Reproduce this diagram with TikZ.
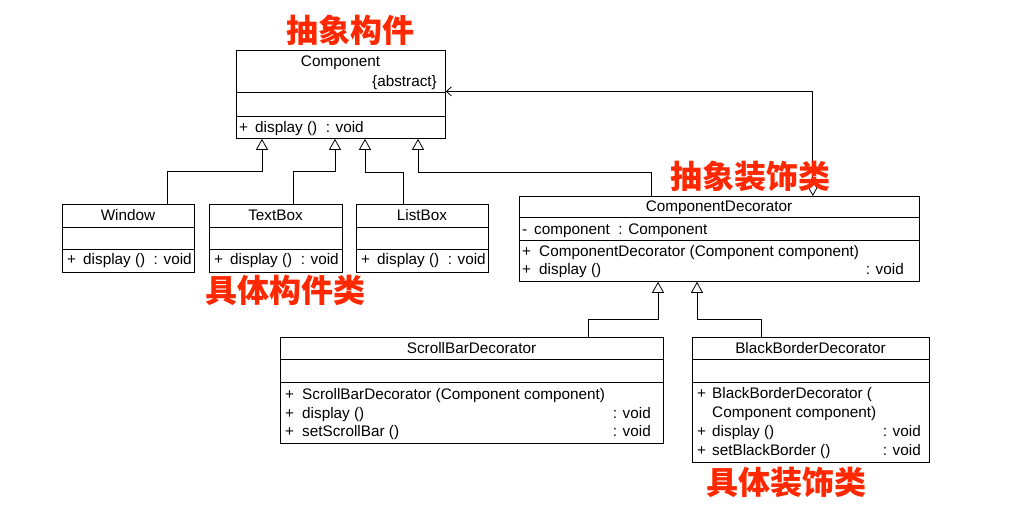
\documentclass[tikz,border=0pt]{standalone}
\usepackage{fontspec}
\setmainfont{Liberation Sans}
\newfontfamily\cjk{Noto Sans CJK SC}
\usetikzlibrary{arrows.meta}
\definecolor{rosso}{RGB}{255,40,0}
\tikzset{
  classe/.style={draw, line width=0.8pt, anchor=north west, inner sep=0pt},
  testo/.style={font=\fontsize{15.3}{18}\selectfont, inner sep=0pt},
  eredita/.style={line width=0.8pt, -{Triangle[open, length=11pt, width=12pt]}},
  aggrega/.style={line width=0.8pt, {Diamond[open, length=16pt, width=9pt]}-{Straight Barb[length=5pt, width=9pt]}},
  nota/.style={text=rosso, font=\cjk\bfseries\fontsize{32}{32}\selectfont}
}
\begin{document}
\begin{tikzpicture}[x=1pt, y=-1pt]
\useasboundingbox (0,0) rectangle (1027,517);

% classi
\node[classe, minimum width=209pt, minimum height=88pt] (comp) at (236,50) {};
\node[classe, minimum width=132pt, minimum height=68pt] (win) at (62,204) {};
\node[classe, minimum width=133pt, minimum height=68pt] (tbox) at (209,204) {};
\node[classe, minimum width=132pt, minimum height=68pt] (lbox) at (356,204) {};
\node[classe, minimum width=400pt, minimum height=85pt] (deco) at (519,196) {};
\node[classe, minimum width=383pt, minimum height=106pt] (scroll) at (280,337) {};
\node[classe, minimum width=237pt, minimum height=125pt] (black) at (692,337) {};

% scomparti
\foreach \n/\w/\a/\b in {comp/209/42/66, win/132/23/45, tbox/133/23/45, lbox/132/23/45,
    deco/400/21/44, scroll/383/22/45, black/237/22/45}
  \draw[line width=0.8pt] (\n.north west) ++(0,\a) -- ++(\w,0)
    (\n.north west) ++(0,\b) -- ++(\w,0);

% Component
\node[testo, anchor=base] (c1) at (340.5,66) {Component};
\node[testo, anchor=base east] (c2) at (437,86) {\{abstract\}};
\node[testo, anchor=base west] (c3) at (239,132) {+};
\node[testo, anchor=base west] (c4) at (255,132) {display ()\ \ : void};

% Window, TextBox, ListBox
\node[testo, anchor=base] (w1) at (128,220) {Window};
\node[testo, anchor=base west] (w2) at (67,264) {+};
\node[testo, anchor=base west] (w3) at (83,264) {display ()\ \ : void};
\node[testo, anchor=base] (t1) at (275.5,220) {TextBox};
\node[testo, anchor=base west] (t2) at (214,264) {+};
\node[testo, anchor=base west] (t3) at (230,264) {display ()\ \ : void};
\node[testo, anchor=base] (l1) at (422,220) {ListBox};
\node[testo, anchor=base west] (l2) at (361,264) {+};
\node[testo, anchor=base west] (l3) at (377,264) {display ()\ \ : void};

% ComponentDecorator
\node[testo, anchor=base] (d1) at (719,211) {ComponentDecorator};
\node[testo, anchor=base west] (d2) at (522,234) {-};
\node[testo, anchor=base west] (d3) at (534,234) {component\ \ : Component};
\node[testo, anchor=base west] (d4) at (522,256) {+};
\node[testo, anchor=base west] (d5) at (539,256) {ComponentDecorator (Component component)};
\node[testo, anchor=base west] (d6) at (522,274) {+};
\node[testo, anchor=base west] (d7) at (539,274) {display ()};
\node[testo, anchor=base east] (d8) at (904,274) {: void};

% ScrollBarDecorator
\node[testo, anchor=base] (s1) at (471.5,353) {ScrollBarDecorator};
\node[testo, anchor=base west] (s2) at (285,399) {+};
\node[testo, anchor=base west] (s3) at (302,399) {ScrollBarDecorator (Component component)};
\node[testo, anchor=base west] (s4) at (285,418) {+};
\node[testo, anchor=base west] (s5) at (302,418) {display ()};
\node[testo, anchor=base east] (s6) at (651,418) {: void};
\node[testo, anchor=base west] (s7) at (285,436) {+};
\node[testo, anchor=base west] (s8) at (302,436) {setScrollBar ()};
\node[testo, anchor=base east] (s9) at (651,436) {: void};

% BlackBorderDecorator
\node[testo, anchor=base] (b1) at (810.5,353) {BlackBorderDecorator};
\node[testo, anchor=base west] (b2) at (697,398) {+};
\node[testo, anchor=base west] (b3) at (712,398) {BlackBorderDecorator (};
\node[testo, anchor=base west] (b4) at (712,417) {Component component)};
\node[testo, anchor=base west] (b5) at (697,436) {+};
\node[testo, anchor=base west] (b6) at (712,436) {display ()};
\node[testo, anchor=base east] (b7) at (921,436) {: void};
\node[testo, anchor=base west] (b8) at (697,455) {+};
\node[testo, anchor=base west] (b9) at (712,455) {setBlackBorder ()};
\node[testo, anchor=base east] (b10) at (921,455) {: void};

% generalizzazioni
\draw[eredita] ([xshift=105pt]win.north west) -- ++(0,-33) -| ([xshift=26pt]comp.south west);
\draw[eredita] ([xshift=84pt]tbox.north west) -- ++(0,-33) -| ([xshift=99pt]comp.south west);
\draw[eredita] ([xshift=47pt]lbox.north west) -- ++(0,-32) -| ([xshift=129pt]comp.south west);
\draw[eredita] ([xshift=132pt]deco.north west) -- ++(0,-24) -| ([xshift=182pt]comp.south west);
\draw[eredita] ([xshift=308pt]scroll.north west) -- ++(0,-18) -| ([xshift=139pt]deco.south west);
\draw[eredita] ([xshift=69pt]black.north west) -- ++(0,-18) -| ([xshift=178pt]deco.south west);

% aggregazione
\draw[aggrega] ([xshift=-107pt]deco.north east) |- ([yshift=3pt]comp.east);

% note
\node[nota] (n1) at (350,30) {抽象构件};
\node[nota] (n2) at (750,176) {抽象装饰类};
\node[nota] (n3) at (285,290) {具体构件类};
\node[nota] (n4) at (786,482) {具体装饰类};

\end{tikzpicture}
\end{document}
